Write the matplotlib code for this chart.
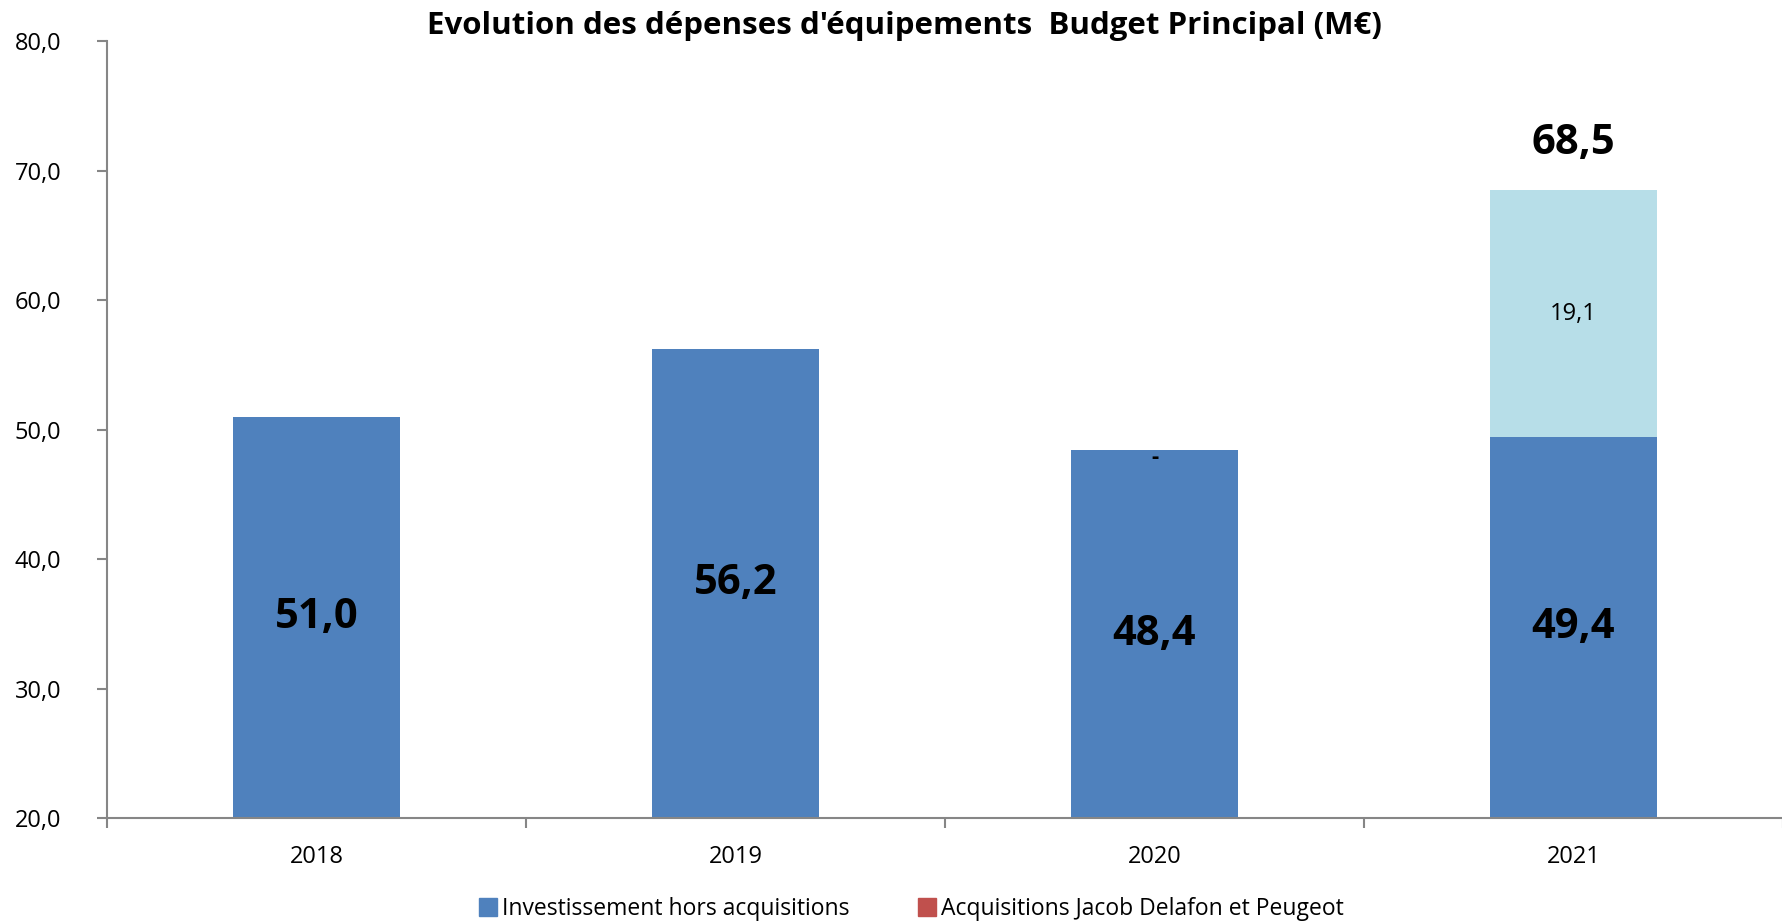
import numpy as np
import matplotlib
matplotlib.use("Agg")
import matplotlib.pyplot as plt
from matplotlib.patches import Patch

plt.rcParams['font.family'] = ['Open Sans', 'DejaVu Sans']

# data
years = ["2018", "2019", "2020", "2021"]
invest = [51.0, 56.2, 48.4, 49.4]
acquisitions = [np.nan, np.nan, 0.0, np.nan]
extra = [0.0, 0.0, 0.0, 19.1]
totals = [None, None, None, 68.5]

blue = "#4F81BD"
red = "#C0504D"
light = "#B7DEE8"
grey = "#868686"

fig = plt.figure(figsize=(17.83, 9.22), dpi=100)
ax = fig.add_axes([0.060, 0.1125, 0.940, 0.843])

x = np.arange(len(years))
w = 0.40
ymin = 20

b1 = ax.bar(x, invest, w, color=blue)
b2 = ax.bar(x, acquisitions, w, bottom=invest, color=red)
b3 = ax.bar(x, extra, w, bottom=invest, color=light)

# labels for blue bars, centred in the visible part
for xi, v in zip(x, invest):
    ax.text(xi, (ymin + v) / 2, f"{v:.1f}".replace(".", ","), ha="center",
            va="center", fontsize=30, fontweight="bold")

# dash label for zero acquisitions
for xi, v, a in zip(x, invest, acquisitions):
    if not np.isnan(a):
        ax.text(xi, v + a - 0.55, "-", ha="center", va="center", fontsize=16,
                fontweight="bold")

for xi, v, e in zip(x, invest, extra):
    if e > 0:
        ax.text(xi, v + e / 2, f"{e:.1f}".replace(".", ","), ha="center",
                va="center", fontsize=17)

for xi, t in zip(x, totals):
    if t is not None:
        ax.text(xi, t + 3.6, f"{t:.1f}".replace(".", ","), ha="center",
                va="center", fontsize=30, fontweight="bold")

ax.set_ylim(20, 80)
ax.set_xlim(-0.5, 3.5)
ax.set_yticks(np.arange(20, 81, 10))
ax.set_yticklabels([f"{v:.1f}".replace(".", ",") for v in np.arange(20, 81, 10)],
                   fontsize=17)
ax.set_xticks(x)
ax.set_xticklabels(years, fontsize=17)
ax.set_xticks(np.arange(-0.5, 3.6, 1), minor=True)
ax.tick_params(axis="x", which="major", length=0, pad=19)
ax.tick_params(axis="x", which="minor", length=7, color=grey, width=1.5)
ax.tick_params(axis="y", length=7, color=grey, width=1.5, pad=26)

for s in ["top", "right"]:
    ax.spines[s].set_visible(False)
for s in ["left", "bottom"]:
    ax.spines[s].set_color(grey)
    ax.spines[s].set_linewidth(1.5)

fig.text(0.507, 0.972, "Evolution des dépenses d'équipements  Budget Principal (M€)",
         ha="center", va="center", fontsize=22.5, fontweight="bold")

handles = [Patch(color=blue, label="Investissement hors acquisitions"),
           Patch(color=red, label="Acquisitions Jacob Delafon et Peugeot")]
fig.legend(handles=handles, loc="center", bbox_to_anchor=(0.511, 0.014),
           ncol=2, frameon=False, fontsize=16.5, handlelength=0.8,
           handleheight=0.8, handletextpad=0.2, columnspacing=3.0)

fig.savefig("out.png", dpi=100)
